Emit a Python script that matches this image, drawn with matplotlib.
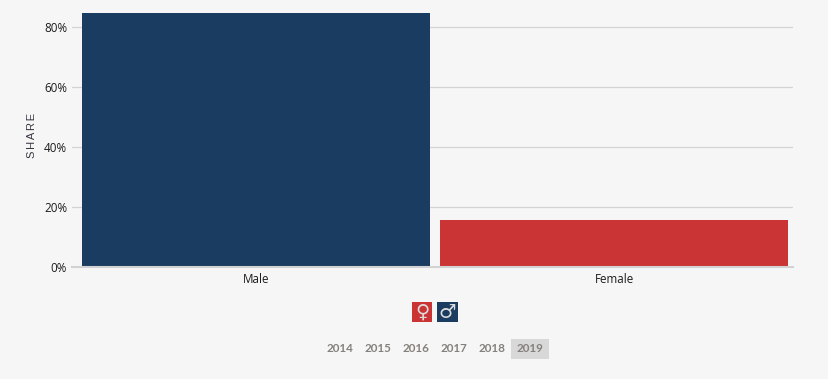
import matplotlib
matplotlib.use('Agg')
from matplotlib import pyplot as plt
from matplotlib.patches import Rectangle

W, H = 829, 379
BG = '#f6f6f6'

categories = ['Male', 'Female']
shares = [84.8, 15.4]
bar_colors = ['#1a3c60', '#cb3435']
y_ticks = [0, 20, 40, 60, 80]
years = ['2014', '2015', '2016', '2017', '2018', '2019']
year_x = [340, 378, 416, 454, 492, 530]
selected_year = '2019'

plt.rcParams['font.family'] = ['Open Sans', 'DejaVu Sans']


def fx(px):
    return px / W


def fy(py):
    return 1 - py / H


fig = plt.figure(figsize=(W / 100, H / 100), dpi=100, facecolor=BG)

# axes box in reference pixels: x 72-793, y 8-266.5
ax = fig.add_axes([fx(72), fy(266.5), (793 - 72) / W, (266.5 - 8) / H], facecolor=BG)
ax.bar(range(2), shares, width=0.972, color=bar_colors, zorder=3)
ax.set_xlim(-0.514, 1.5)
ax.set_ylim(0, 258.5 / 2.99)

ax.set_xticks(range(2), categories)
ax.set_yticks(y_ticks, [f'{v}%' for v in y_ticks])
ax.tick_params(axis='x', length=0, pad=5, labelsize=8.4, labelcolor='#1c1c1c')
ax.tick_params(axis='y', length=0, pad=3.5, labelsize=8.4, labelcolor='#1c1c1c')
ax.grid(axis='y', color='#d4d4d4', linewidth=0.9, zorder=1)
ax.set_axisbelow(True)
for side in ['top', 'right', 'left']:
    ax.spines[side].set_visible(False)
ax.spines['bottom'].set_color('#d2d2d2')
ax.spines['bottom'].set_linewidth(1.5)
ax.spines['bottom'].set_zorder(4)

# letter spaced axis title
fig.text(fx(32.5), fy(135), '\u200a\u200a'.join('SHARE'), rotation=90, ha='center', va='center',
         fontsize=8, color='#3a3340', fontfamily=['Liberation Sans', 'DejaVu Sans'])

# gender legend buttons
for x0, color, symbol in [(412, '#cb3435', '\u2640'), (437, '#1a3c60', '\u2642')]:
    fig.add_artist(Rectangle((fx(x0), fy(322)), 20.5 / W, 20 / H, color=color,
                             transform=fig.transFigure, linewidth=0))
    fig.text(fx(x0 + 10.5), fy(312.5), symbol, ha='center', va='center', fontsize=14,
             color='#dcdcdc', fontfamily='DejaVu Sans')

# year selector
for label, x in zip(years, year_x):
    if label == selected_year:
        fig.add_artist(Rectangle((fx(x - 19), fy(359)), 38 / W, 20 / H, color='#d8d8d8',
                                 transform=fig.transFigure, linewidth=0))
    fig.text(fx(x), fy(348.5), label, ha='center', va='center', fontsize=8.4,
             fontweight='bold', color='#85807c', fontfamily='Lato')

fig.savefig('out.png', dpi=100, facecolor=BG)
